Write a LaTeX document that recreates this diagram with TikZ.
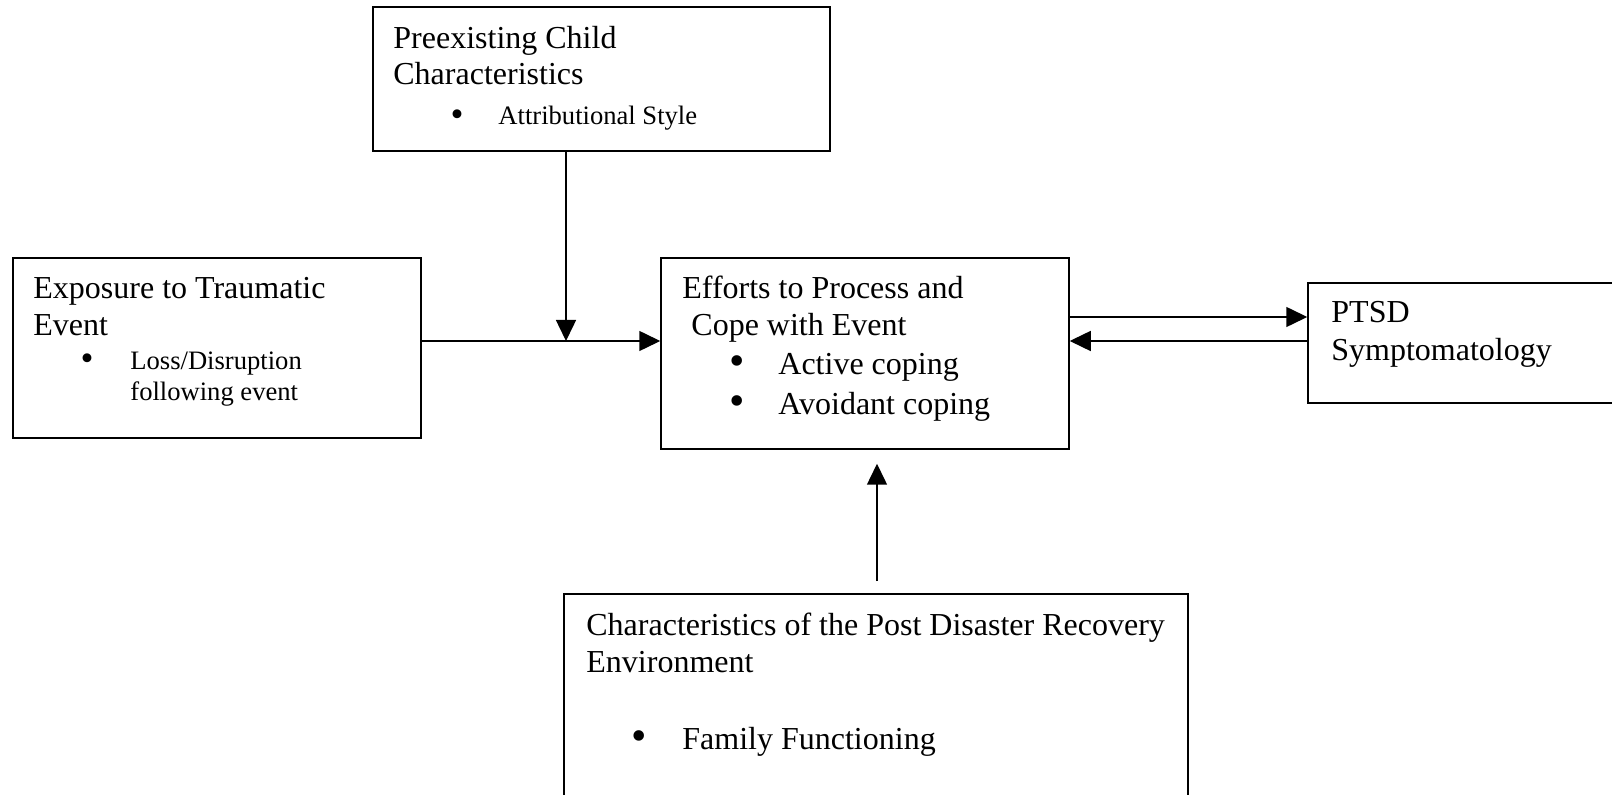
\documentclass[tikz,border=0pt]{standalone}
\usepackage{fontspec}
\setmainfont{Liberation Serif}
\usetikzlibrary{arrows.meta,fit}
\begin{document}
\begin{tikzpicture}[x=0.5pt,y=-0.5pt,
  box/.style={draw,line width=0.75pt,inner sep=0pt,rectangle},
  big/.style={anchor=base west,inner sep=0pt,font=\fontsize{16}{18.5}\selectfont},
  small/.style={anchor=base west,inner sep=0pt,font=\fontsize{13.3}{15.5}\selectfont},
  bigdot/.style={anchor=base,inner sep=0pt,font=\fontsize{22}{22}\selectfont},
  smalldot/.style={anchor=base,inner sep=0pt,font=\fontsize{18.5}{18.5}\selectfont},
  arr/.style={line width=0.75pt,-{Triangle[length=10.5pt,width=10pt]}}]
\useasboundingbox (0,0) rectangle (1612,795);
\clip (0,0) rectangle (1612,795);
% boxes
\node[box,fit={(373,7)(830,151)}] (pre) {};
\node[box,fit={(13,258)(421,438)}] (exp) {};
\node[box,fit={(661,258)(1069,449)}] (eff) {};
\node[box,fit={(1308,283)(1660,403)}] (ptsd) {};
\node[box,fit={(564,594)(1188,840)}] (env) {};
% texts: Preexisting
\node[big] (pre1) at (393,49) {Preexisting Child};
\node[big] (pre2) at (393,85) {Characteristics};
\node[smalldot] (pre3b) at (457,127) {•};
\node[small] (pre3) at (498,125) {Attributional Style};
% Exposure
\node[big] (exp1) at (33,299) {Exposure to Traumatic};
\node[big] (exp2) at (33,336) {Event};
\node[smalldot] (exp3b) at (87,371) {•};
\node[small] (exp3) at (130,370) {Loss/Disruption};
\node[small] (exp4) at (130,401) {following event};
% Efforts
\node[big] (eff1) at (682,299) {Efforts to Process and};
\node[big] (eff2) at (691,336) {Cope with Event};
\node[bigdot] (eff3b) at (737,376) {•};
\node[big] (eff3) at (778,375) {Active coping};
\node[bigdot] (eff4b) at (737,416) {•};
\node[big] (eff4) at (778,415) {Avoidant coping};
% PTSD
\node[big] (ptsd1) at (1331,323) {PTSD};
\node[big] (ptsd2) at (1331,361) {Symptomatology};
% Environment
\node[big] (env1) at (586,636) {Characteristics of the Post Disaster Recovery};
\node[big] (env2) at (586,673) {Environment};
\node[bigdot] (env3b) at (639,751) {•};
\node[big] (env3) at (682,750) {Family Functioning};
% connectors
\coordinate (j) at (566,341);
\coordinate (u) at (1100,317);
\coordinate (v) at (877,520);
\draw[arr] (pre.south -| j) -- (j);
\draw[arr] (exp.east |- j) -- (eff.west |- j);
\draw[arr] (eff.east |- u) -- (ptsd.west |- u);
\draw[arr] (ptsd.west |- j) -- (eff.east |- j);
\draw[arr,shorten <=6pt,shorten >=7pt] (env.north -| v) -- (eff.south -| v);
\end{tikzpicture}
\end{document}
